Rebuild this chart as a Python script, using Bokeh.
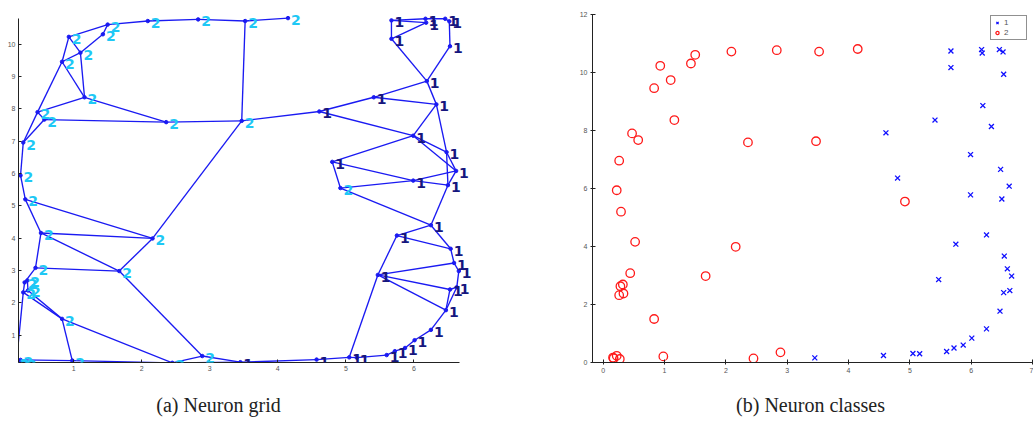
from bokeh.plotting import figure
from bokeh.layouts import column, row
from bokeh.models import ColumnDataSource, FixedTicker, Range1d, Legend, LegendItem, LabelSet
from bokeh.core.properties import value
from bokeh.embed import file_html
from bokeh.resources import INLINE

# ---- neuron positions (class 2 = "a", class 1 = "b") ----
class2_x = [0.22, 0.26, 0.47, 0.57, 0.83, 0.93, 1.10, 1.16, 1.43, 1.50, 2.09, 2.36, 2.83, 3.52, 4.15,
            3.47, 4.92, 0.29, 0.52, 0.44, 0.28, 0.32, 0.26, 0.33, 0.83, 2.16, 1.67, 0.98, 2.45, 2.89,
            0.17, 0.22, 0.27, 0.16]
class2_y = [5.94, 6.96, 7.90, 7.67, 9.46, 10.23, 9.74, 8.36, 10.31, 10.61, 10.72, 7.59, 10.77, 10.72, 10.81,
            7.63, 5.55, 5.20, 4.16, 3.08, 2.63, 2.69, 2.32, 2.38, 1.50, 3.99, 2.98, 0.21, 0.14, 0.35,
            0.14, 0.23, 0.12, 0.17]
class1_x = [5.67, 6.17, 6.18, 6.46, 6.52, 5.67, 6.53, 6.19, 5.41, 6.33, 4.61, 5.99, 4.80, 6.48, 6.62,
            5.99, 6.50, 6.25, 5.75, 6.54, 6.59, 6.66, 5.47, 6.53, 6.63, 6.47, 6.25, 6.01, 5.87, 5.72,
            5.60, 5.05, 5.16, 4.57, 3.45]
class1_y = [10.74, 10.79, 10.67, 10.79, 10.71, 10.17, 9.94, 8.86, 8.36, 8.14, 7.92, 7.17, 6.36, 6.66, 6.08,
            5.78, 5.64, 4.40, 4.08, 3.67, 3.23, 2.98, 2.86, 2.41, 2.48, 1.77, 1.16, 0.84, 0.60, 0.50,
            0.38, 0.31, 0.30, 0.24, 0.16]

# ---- grid edges (neighbour links) ----
edges = [
    ("a10", "a11"), ("a11", "a13"), ("a13", "a14"), ("a14", "a15"), ("a6", "a10"), ("a9", "a10"),
    ("a7", "a9"), ("a6", "a7"), ("a5", "a6"), ("a5", "a7"), ("a5", "a8"), ("a7", "a8"), ("a3", "a5"),
    ("a3", "a8"), ("a8", "a12"), ("a2", "a3"), ("a3", "a4"), ("a2", "a4"), ("a4", "a12"), ("a12", "a16"),
    ("a14", "a16"), ("a16", "b11"), ("a16", "a26"), ("a1", "a2"), ("a1", "a18"), ("a18", "a26"),
    ("a18", "a19"), ("a19", "a26"), ("a19", "a27"), ("a19", "a20"), ("a20", "a27"), ("a26", "a27"),
    ("a20", "a21"), ("a21", "a22"), ("a21", "a23"), ("a22", "a24"), ("a23", "a24"), ("a23", "a25"),
    ("a24", "a25"), ("a25", "a28"), ("a25", "a29"), ("a23", "a34"), ("a31", "a32"), ("a32", "a33"),
    ("a33", "a34"), ("a31", "a34"), ("a32", "a28"), ("a28", "a29"), ("a29", "a30"), ("a27", "a30"),
    ("a30", "b35"), ("a29", "b35"),
    ("b1", "b2"), ("b1", "b3"), ("b2", "b4"), ("b4", "b5"), ("b3", "b6"), ("b1", "b6"), ("b5", "b7"),
    ("b6", "b8"), ("b7", "b8"), ("b8", "b9"), ("b8", "b10"), ("b9", "b10"), ("b9", "b11"), ("b11", "b12"),
    ("b10", "b12"), ("b10", "b14"), ("b12", "b14"), ("b12", "b15"), ("b12", "b13"), ("b13", "b16"),
    ("b14", "b15"), ("b14", "b17"), ("b15", "b17"), ("b15", "b16"), ("b16", "b17"), ("b13", "a17"),
    ("a17", "b16"), ("a17", "b18"), ("b17", "b18"), ("b18", "b19"), ("b18", "b20"), ("b19", "b20"),
    ("b19", "b23"), ("b20", "b21"), ("b21", "b22"), ("b22", "b25"), ("b24", "b25"), ("b23", "b21"),
    ("b23", "b24"), ("b23", "b26"), ("b23", "b32"), ("b24", "b26"), ("b25", "b26"), ("b26", "b27"),
    ("b27", "b28"), ("b28", "b29"), ("b29", "b30"), ("b30", "b31"), ("b31", "b33"), ("b32", "b33"),
    ("b32", "b34"), ("b34", "b35"),
]

grid_ticks_x = [1, 2, 3, 4, 5, 6]
grid_ticks_y = [1, 2, 3, 4, 5, 6, 7, 8, 9, 10]
class_ticks_x = [0, 1, 2, 3, 4, 5, 6, 7]
class_ticks_y = [0, 2, 4, 6, 8, 10, 12]
captions = ["(a) Neuron grid", "(b) Neuron classes"]

# ---------------------------------------------------------------
pos = {}
for i, (x, y) in enumerate(zip(class2_x, class2_y)):
    pos["a%d" % (i + 1)] = (x, y)
for i, (x, y) in enumerate(zip(class1_x, class1_y)):
    pos["b%d" % (i + 1)] = (x, y)

LINE = "#1a1af2"
COL1 = "#16167e"
COL2 = "#1ec8f5"
TICKCOL = "#555555"


def style_axes(p, fs="7px"):
    for ax in (p.xaxis[0], p.yaxis[0]):
        ax.major_label_text_font_size = fs
        ax.major_label_text_color = TICKCOL
        ax.major_label_text_font = "Liberation Sans"
        ax.axis_line_color = "#222222"
        ax.major_tick_line_color = "#222222"
        ax.major_tick_in = 3
        ax.major_tick_out = 0
        ax.minor_tick_line_color = None
        ax.major_label_standoff = 3
    p.xgrid.grid_line_color = None
    p.ygrid.grid_line_color = None
    p.outline_line_color = None


# ---- (a) neuron grid ----
# the frame is a little larger than the axes so node labels at the edges are not cut
p1 = figure(width=560, height=383, output_backend="svg", toolbar_location=None,
            x_range=Range1d(0.19, 6.905), y_range=Range1d(0.15, 11.046),
            min_border_left=18, min_border_right=85, min_border_top=10, min_border_bottom=19)
p1.xaxis.ticker = FixedTicker(ticks=grid_ticks_x)
p1.yaxis.ticker = FixedTicker(ticks=grid_ticks_y)
p1.xaxis.bounds = (0.19, 6.67)
p1.yaxis.bounds = (0.15, 10.80)
style_axes(p1)

xs = [[pos[a][0], pos[b][0]] for a, b in edges]
ys = [[pos[a][1], pos[b][1]] for a, b in edges]
p1.multi_line(xs=xs, ys=ys, line_color=LINE, line_width=1.35)

all_x = class2_x + class1_x
all_y = class2_y + class1_y
p1.scatter(all_x, all_y, size=3.5, marker="circle", line_color=LINE, fill_color=LINE, line_width=1)

lab_src = ColumnDataSource(dict(
    x=all_x, y=all_y,
    t=["2"] * len(class2_x) + ["1"] * len(class1_x),
    c=[COL2] * len(class2_x) + [COL1] * len(class1_x)))
labels = LabelSet(x="x", y="y", text="t", text_color="c", source=lab_src,
                  text_font=value("DejaVu Sans"), text_font_style="bold", text_font_size="14px",
                  text_align="left", text_baseline="middle", x_offset=3, y_offset=-2)
p1.add_layout(labels)

# ---- (b) neuron classes ----
p2 = figure(width=473, height=383, output_backend="svg", toolbar_location=None,
            x_range=Range1d(-0.175, 7.0), y_range=Range1d(0, 12.138),
            min_border_left=32, min_border_right=1, min_border_top=10, min_border_bottom=21)
p2.xaxis.ticker = FixedTicker(ticks=class_ticks_x)
p2.yaxis.ticker = FixedTicker(ticks=class_ticks_y)
p2.yaxis.bounds = (0, 12)
style_axes(p2)
p2.xaxis.major_tick_out = 2
p2.yaxis.major_tick_out = 2

r1 = p2.scatter(class1_x, class1_y, marker="x", size=7, line_color="#1010ff", line_width=1.3)
r2 = p2.scatter(class2_x, class2_y, marker="circle", size=8.5, line_color="#ff1a1a",
                fill_color=None, line_width=1.3)
leg = Legend(items=[LegendItem(label="1", renderers=[r1]), LegendItem(label="2", renderers=[r2])],
             location="top_right")
leg.label_text_font_size = "8px"
leg.label_text_color = TICKCOL
leg.label_text_font = "Liberation Sans"
leg.glyph_height = 9
leg.glyph_width = 8
leg.spacing = 1
leg.padding = 2
leg.margin = 5
leg.label_standoff = 3
leg.label_height = 9
leg.border_line_color = "#222222"
leg.border_line_width = 1
leg.background_fill_color = "white"
p2.add_layout(leg)

# ---- captions ----
pc = figure(width=1033, height=38, output_backend="svg", toolbar_location=None,
            x_range=Range1d(0, 1033), y_range=Range1d(0, 38),
            x_axis_type=None, y_axis_type=None, min_border=0)
pc.outline_line_color = None
pc.xgrid.grid_line_color = None
pc.ygrid.grid_line_color = None
pc.text(x=[218, 810], y=[17, 17], text=captions, text_font=value("Liberation Serif"),
        text_font_size="20px", text_color="#222222", text_align="center", text_baseline="middle")

layout = column(row(p1, p2), pc)
open("out.html", "w").write(file_html(layout, INLINE))
